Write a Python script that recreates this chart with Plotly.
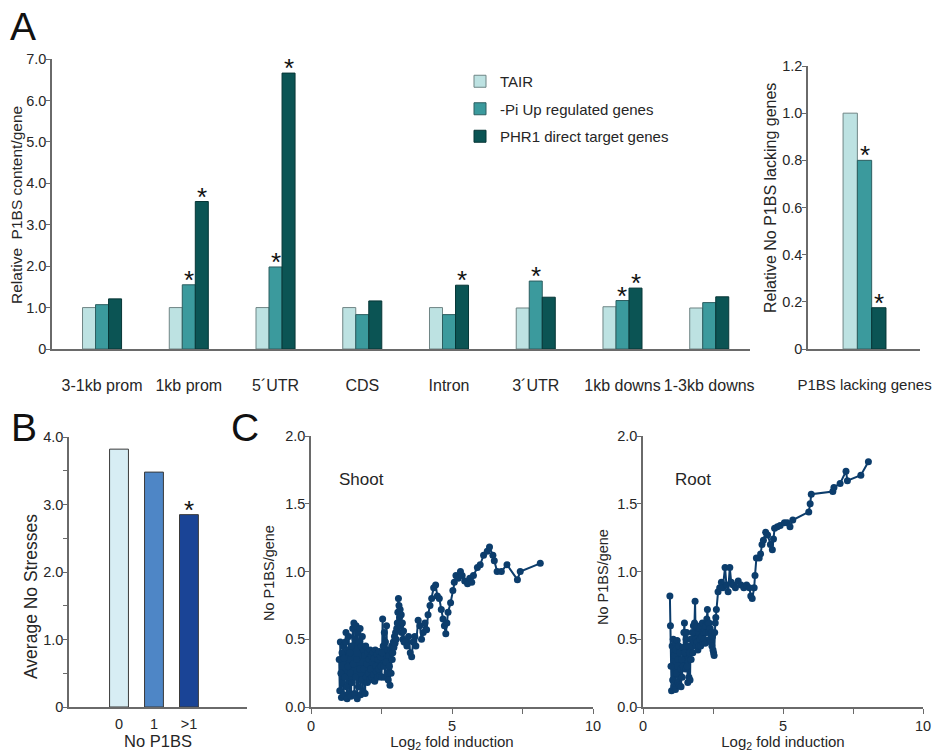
import plotly.graph_objects as go

# ---------------- data ----------------
regions = ["3-1kb prom", "1kb prom", "5\u00b4UTR", "CDS", "Intron", "3\u00b4UTR", "1kb downs", "1-3kb downs"]
series_names = ["TAIR", "-Pi Up regulated genes", "PHR1 direct target genes"]
tair_vals = [1.00, 1.00, 1.00, 1.00, 1.00, 0.99, 1.02, 0.99]
pi_vals = [1.07, 1.55, 1.98, 0.83, 0.83, 1.64, 1.17, 1.12]
phr1_vals = [1.21, 3.56, 6.66, 1.16, 1.54, 1.25, 1.47, 1.26]
tair_star = [0, 0, 0, 0, 0, 0, 0, 0]
pi_star = [0, 1, 1, 0, 0, 1, 1, 0]
phr1_star = [0, 1, 1, 0, 1, 0, 1, 0]

lacking_cat = ["P1BS lacking genes"]
lacking_vals = [1.00, 0.80, 0.175]
lacking_star = [0, 1, 1]

b_cats = ["0", "1", ">1"]
b_vals = [3.82, 3.48, 2.85]
b_star = [0, 0, 1]

shoot_x = [1.00, 1.02, 1.04, 1.06, 1.08, 1.10, 1.12, 1.14, 1.16, 1.18,
           1.20, 1.22, 1.24, 1.26, 1.28, 1.30, 1.32, 1.34, 1.36, 1.38,
           1.40, 1.42, 1.44, 1.46, 1.48, 1.50, 1.52, 1.54, 1.56, 1.58,
           1.60, 1.62, 1.64, 1.66, 1.68, 1.70, 1.72, 1.74, 1.76, 1.78,
           1.80, 1.82, 1.84, 1.86, 1.88, 1.90, 1.92, 1.94, 1.96, 1.98,
           2.00, 2.02, 2.04, 2.06, 2.08, 2.10, 2.12, 2.14, 2.16, 2.18,
           2.20, 2.22, 2.24, 2.26, 2.28, 2.30, 2.32, 2.34, 2.36, 2.38,
           2.40, 2.42, 2.44, 2.46, 2.48, 2.50, 2.52, 2.54, 2.56, 2.58,
           2.60, 2.62, 2.64, 2.66, 2.68, 2.70, 2.72, 2.74, 2.76, 2.78,
           2.80, 2.82, 2.84, 2.86, 2.88, 2.90, 2.92, 2.94, 2.96, 2.98,
           3.00, 3.02, 3.04, 3.06, 3.08, 3.10, 3.12, 3.14, 3.16, 3.18,
           3.20, 3.22, 3.24, 3.26, 3.28, 3.30,
           3.34, 3.40, 3.46, 3.52, 3.57, 3.62, 3.68, 3.72, 3.80, 3.86, 3.92, 3.98, 4.04, 4.10,
           4.15, 4.22, 4.28, 4.35, 4.42, 4.48, 4.55, 4.62, 4.68, 4.73, 4.78, 4.82, 4.86,
           4.95, 5.03, 5.08, 5.14, 5.22, 5.30, 5.36,
           5.45, 5.55, 5.63, 5.70, 5.76, 5.90, 6.00,
           6.12, 6.25, 6.33, 6.45, 6.50, 6.60, 6.75, 6.95, 7.32, 7.42, 8.13]
shoot_y = [0.35, 0.12, 0.48, 0.25, 0.07, 0.40, 0.18, 0.45, 0.09, 0.36,
           0.22, 0.48, 0.55, 0.15, 0.06, 0.42, 0.30, 0.52, 0.10, 0.40,
           0.25, 0.08, 0.45, 0.18, 0.58, 0.32, 0.62, 0.10, 0.50, 0.22,
           0.60, 0.35, 0.06, 0.55, 0.15, 0.48, 0.28, 0.58, 0.09, 0.45,
           0.20, 0.52, 0.12, 0.42, 0.28, 0.38, 0.10, 0.45, 0.22, 0.32,
           0.18, 0.40, 0.25, 0.35, 0.20, 0.42, 0.28, 0.38, 0.22, 0.33,
           0.40, 0.24, 0.36, 0.19, 0.42, 0.30, 0.26, 0.39, 0.22, 0.35,
           0.28, 0.41, 0.23, 0.37, 0.30, 0.22, 0.40, 0.65, 0.45, 0.30,
           0.55, 0.22, 0.48, 0.33, 0.60, 0.25, 0.42, 0.20, 0.38, 0.30,
           0.16, 0.42, 0.25, 0.45, 0.35, 0.40, 0.48, 0.44, 0.52, 0.47,
           0.55, 0.50, 0.58, 0.62, 0.70, 0.80, 0.75, 0.66, 0.72, 0.60,
           0.68, 0.55, 0.62, 0.50, 0.56, 0.48,
           0.48, 0.45, 0.52, 0.40, 0.37, 0.48, 0.52, 0.45, 0.64, 0.60, 0.50, 0.55, 0.62, 0.57,
           0.68, 0.75, 0.80, 0.88, 0.90, 0.82, 0.80, 0.72, 0.65, 0.60, 0.54, 0.62, 0.70,
           0.77, 0.86, 0.92, 0.97, 0.95, 1.00, 0.97,
           0.93, 0.91, 0.95, 0.92, 0.97, 1.03, 1.05,
           1.12, 1.15, 1.18, 1.12, 1.08, 1.00, 1.00, 1.05, 0.94, 1.00, 1.06]

root_x = [0.96, 0.98, 1.00, 1.02, 1.04, 1.06, 1.08, 1.10, 1.12, 1.14,
          1.16, 1.18, 1.20, 1.22, 1.24, 1.26, 1.28, 1.30, 1.32, 1.34,
          1.36, 1.38, 1.40, 1.42, 1.44, 1.46, 1.48, 1.50, 1.52, 1.54,
          1.56, 1.58, 1.60, 1.62, 1.64, 1.66, 1.68, 1.70, 1.72, 1.74,
          1.76, 1.78, 1.80, 1.82, 1.84, 1.86, 1.88, 1.90, 1.92, 1.94,
          1.96, 1.98, 2.00, 2.02, 2.04, 2.06, 2.08, 2.10, 2.12, 2.14,
          2.16, 2.18, 2.20, 2.22, 2.24, 2.26, 2.28, 2.30, 2.32, 2.34,
          2.36, 2.38, 2.40, 2.42, 2.44, 2.46, 2.48, 2.50, 2.52, 2.54,
          2.56, 2.58, 2.60,
          2.62, 2.68, 2.74, 2.80, 2.85, 2.93, 2.98, 3.04, 3.10, 3.15, 3.22, 3.30,
          3.40, 3.50, 3.60, 3.70, 3.80, 3.85, 3.90, 3.97, 4.00, 4.05, 4.15, 4.20,
          4.25, 4.30, 4.38, 4.45, 4.55, 4.62, 4.66, 4.70, 4.80, 4.90, 5.05, 5.15,
          5.25, 5.35, 5.92, 5.97, 6.01, 6.78, 6.82, 7.04, 7.25, 7.30, 7.78, 8.05]
root_y = [0.82, 0.60, 0.30, 0.12, 0.45, 0.20, 0.50, 0.15, 0.38, 0.48,
          0.13, 0.42, 0.25, 0.49, 0.18, 0.35, 0.45, 0.16, 0.40, 0.28,
          0.15, 0.35, 0.22, 0.44, 0.30, 0.55, 0.62, 0.40, 0.28, 0.50,
          0.55, 0.30, 0.18, 0.45, 0.22, 0.40, 0.20, 0.50, 0.35, 0.45,
          0.55, 0.40, 0.60, 0.48, 0.62, 0.78, 0.50, 0.45, 0.60, 0.48,
          0.42, 0.55, 0.45, 0.58, 0.50, 0.45, 0.60, 0.52, 0.62, 0.48,
          0.55, 0.50, 0.58, 0.47, 0.60, 0.55, 0.65, 0.72, 0.62, 0.55,
          0.62, 0.50, 0.58, 0.48, 0.55, 0.45, 0.52, 0.42, 0.40, 0.38,
          0.55, 0.62, 0.66,
          0.72, 0.85, 0.88, 0.92, 0.88, 1.03, 0.90, 0.85, 1.03, 0.92, 0.90, 0.88,
          0.93, 0.90, 0.88, 0.90, 0.88, 0.82, 0.80, 0.88, 0.97, 1.10, 1.10, 1.13,
          1.20, 1.23, 1.29, 1.27, 1.20, 1.16, 1.24, 1.32, 1.33, 1.34, 1.36, 1.36,
          1.33, 1.38, 1.44, 1.50, 1.57, 1.59, 1.62, 1.65, 1.74, 1.67, 1.71, 1.81]

# ---------------- styles ----------------
FONT = "Liberation Sans, Arial, sans-serif"
TXT = "#262626"
AX = "#6a6a6a"
W, H = 933, 752
teal_cols = ["#bde2e2", "#3b9a9d", "#0b5454"]
teal_lines = ["#6f8585", "#2c5e60", "#073636"]
blue_cols = ["#d7edf4", "#4e86c6", "#1a4496"]
navy = "#0c3d6c"


def px_x(p):
    return p / W


def px_y(p):
    return 1 - p / H


def tf(size):
    return dict(size=size, color=TXT, family=FONT)


fig = go.Figure()

# Panel A main bars
offsets = [-0.225, -0.075, 0.075]
bw = 0.15
for j, vals in enumerate([tair_vals, pi_vals, phr1_vals]):
    fig.add_trace(go.Bar(
        x=regions, y=vals, name=series_names[j], width=bw, offset=offsets[j],
        marker=dict(color=teal_cols[j], line=dict(color=teal_lines[j], width=1)),
        xaxis="x", yaxis="y", showlegend=True, legendgroup=series_names[j]))

# Panel A right bars
offs2 = [-0.2475, -0.0825, 0.0825]
bw2 = 0.165
for j in range(3):
    fig.add_trace(go.Bar(
        x=lacking_cat, y=[lacking_vals[j]], name=series_names[j], width=bw2, offset=offs2[j],
        marker=dict(color=teal_cols[j], line=dict(color=teal_lines[j], width=1)),
        xaxis="x2", yaxis="y2", showlegend=False, legendgroup=series_names[j]))

# Panel B bars
fig.add_trace(go.Bar(
    x=b_cats, y=b_vals, width=0.54, offset=-0.27,
    marker=dict(color=blue_cols, line=dict(color="#3a3a3a", width=1)),
    xaxis="x3", yaxis="y3", showlegend=False))

# Panel C lines
fig.add_trace(go.Scatter(x=shoot_x, y=shoot_y, mode="lines+markers",
                         line=dict(color=navy, width=2), marker=dict(color=navy, size=7),
                         xaxis="x4", yaxis="y4", showlegend=False))
fig.add_trace(go.Scatter(x=root_x, y=root_y, mode="lines+markers",
                         line=dict(color=navy, width=2), marker=dict(color=navy, size=7),
                         xaxis="x5", yaxis="y5", showlegend=False))

# star annotations
ann = []
STAR = dict(showarrow=False, text="*", font=dict(size=26, color="#111", family=FONT),
            yanchor="bottom", yshift=-12)
centers = [o + bw / 2 for o in offsets]
for j, flags in enumerate([tair_star, pi_star, phr1_star]):
    vals = [tair_vals, pi_vals, phr1_vals][j]
    for i, f in enumerate(flags):
        if f:
            ann.append(dict(STAR, x=i + centers[j], y=vals[i], xref="x", yref="y"))
centers2 = [o + bw2 / 2 for o in offs2]
for j, f in enumerate(lacking_star):
    if f:
        ann.append(dict(STAR, x=centers2[j], y=lacking_vals[j], xref="x2", yref="y2"))
for i, f in enumerate(b_star):
    if f:
        ann.append(dict(STAR, x=i, y=b_vals[i], xref="x3", yref="y3"))

# panel letters
for letter, xp, yp in [("A", 8, 3), ("B", 9, 404), ("C", 229, 404)]:
    ann.append(dict(text=letter, x=px_x(xp), y=px_y(yp), xref="paper", yref="paper",
                    xanchor="left", yanchor="top", showarrow=False,
                    font=dict(size=39, color="#111", family=FONT)))
ann.append(dict(text="Shoot", x=1.8, y=1.68, xref="x4", yref="y4", showarrow=False, font=tf(17)))
ann.append(dict(text="Root", x=1.8, y=1.68, xref="x5", yref="y5", showarrow=False, font=tf(17)))

# y-axis titles (rotated text)
for txt, xp, yp, sz in [("Relative\u00a0 P1BS content/gene", 16, 205, 15.5),
                        ("Relative No P1BS lacking genes", 770, 198, 16),
                        ("Average No Stresses", 31, 597, 17.5),
                        ("No P1BS/gene", 269, 573, 14.5),
                        ("No P1BS/gene", 603, 577, 14.5)]:
    ann.append(dict(text=txt, x=px_x(xp), y=px_y(yp), xref="paper", yref="paper",
                    xanchor="center", yanchor="middle", textangle=-90, showarrow=False,
                    font=tf(sz)))

axis_common = dict(showline=True, linecolor=AX, linewidth=1.5, showgrid=False, zeroline=False,
                   tickcolor=AX, tickwidth=1.2, tickfont=tf(14.5), automargin=False)
ycommon = dict(axis_common, ticks="outside", ticklen=4, ticklabelstandoff=-3)

fig.update_layout(
    width=W, height=H, margin=dict(l=0, r=0, t=0, b=0, autoexpand=False),
    paper_bgcolor="white", plot_bgcolor="white", barmode="overlay",
    font=dict(family=FONT, color=TXT),
    annotations=ann,
    legend=dict(x=px_x(460), y=px_y(65), xanchor="left", yanchor="top",
                font=tf(15), bgcolor="rgba(0,0,0,0)", tracegroupgap=5),
    xaxis=dict(axis_common, domain=[px_x(52), px_x(750)], type="category",
               range=[-0.577, 7.47], ticks="", ticklabelstandoff=21, tickangle=0,
               tickfont=tf(16), anchor="y"),
    yaxis=dict(ycommon, domain=[px_y(349), px_y(59)], range=[0, 7.0],
               tickvals=[0, 1, 2, 3, 4, 5, 6, 7],
               ticktext=["0", "1.0", "2.0", "3.0", "4.0", "5.0", "6.0", "7.0"], anchor="x"),
    xaxis2=dict(axis_common, domain=[px_x(808), px_x(920)], type="category",
                range=[-0.652, 0.640], ticks="", ticklabelstandoff=21, tickangle=0,
                tickfont=tf(15), anchor="y2"),
    yaxis2=dict(ycommon, domain=[px_y(349), px_y(66)], range=[0, 1.2],
                tickvals=[0, 0.2, 0.4, 0.6, 0.8, 1.0, 1.2],
                ticktext=["0", "0.2", "0.4", "0.6", "0.8", "1.0", "1.2"], anchor="x2"),
    xaxis3=dict(axis_common, domain=[px_x(69), px_x(247)], type="category",
                range=[-1.43, 3.66], ticks="", ticklabelstandoff=3, tickangle=0, anchor="y3",
                title=dict(text="No P1BS", standoff=0, font=tf(16.5))),
    yaxis3=dict(ycommon, domain=[px_y(707), px_y(437)], range=[0, 4.0],
                tickvals=[0, 0.5, 1, 1.5, 2, 2.5, 3, 3.5, 4],
                ticktext=["0", "", "1.0", "", "2.0", "", "3.0", "", "4.0"], anchor="x3"),
    xaxis4=dict(axis_common, domain=[px_x(311), px_x(593)], range=[0, 10],
                tickvals=[0, 2.5, 5, 7.5, 10], ticktext=["0", "", "5", "", "10"],
                ticks="outside", ticklen=5, anchor="y4",
                title=dict(text="Log<sub>2</sub> fold induction", standoff=0, font=tf(15))),
    yaxis4=dict(ycommon, domain=[px_y(707), px_y(436)], range=[0, 2.0],
                tickvals=[0, 0.5, 1.0, 1.5, 2.0], ticktext=["0.0", "0.5", "1.0", "1.5", "2.0"],
                anchor="x4"),
    xaxis5=dict(axis_common, domain=[px_x(643), px_x(923)], range=[0, 10],
                tickvals=[0, 2.5, 5, 7.5, 10], ticktext=["0", "", "5", "", "10"],
                ticks="outside", ticklen=5, anchor="y5",
                title=dict(text="Log<sub>2</sub> fold induction", standoff=0, font=tf(15))),
    yaxis5=dict(ycommon, domain=[px_y(707), px_y(436)], range=[0, 2.0],
                tickvals=[0, 0.5, 1.0, 1.5, 2.0], ticktext=["0.0", "0.5", "1.0", "1.5", "2.0"],
                anchor="x5"),
)

fig.write_html("out.html", config={"displayModeBar": False},
               post_script="document.body.style.margin='0';")
